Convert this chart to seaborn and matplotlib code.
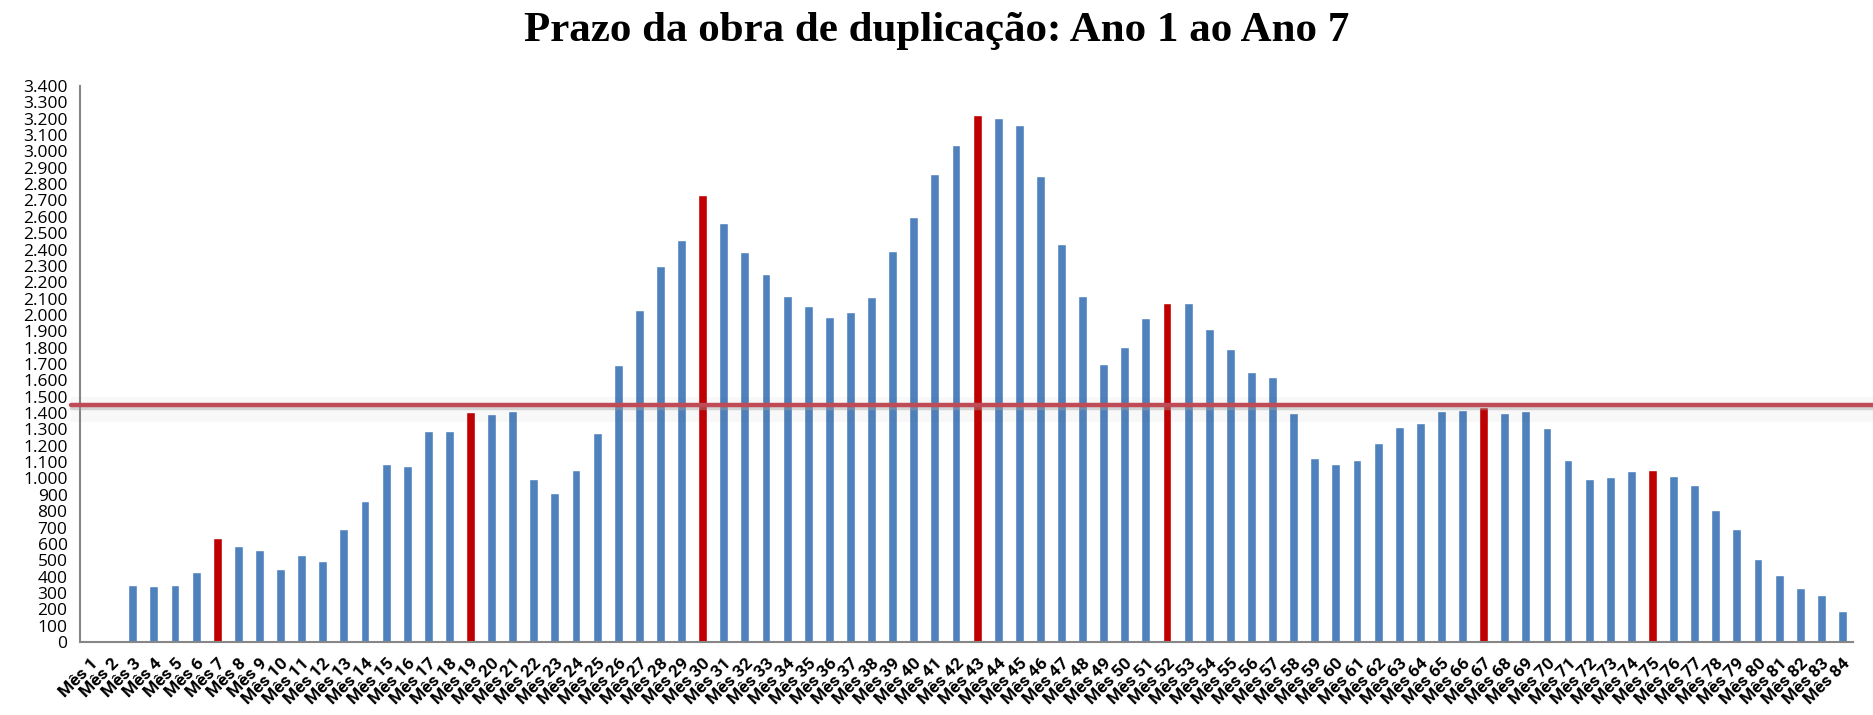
import numpy as np
import pandas as pd
import seaborn as sns
import matplotlib.pyplot as plt
from matplotlib.ticker import FuncFormatter, MultipleLocator

# Data
months = [f"Mês {i}" for i in range(1, 85)]
values = [
    0, 0, 347, 343, 350, 430, 638, 590, 564, 446,
    529, 496, 691, 862, 1090, 1076, 1290, 1290, 1405, 1393,
    1412, 998, 909, 1052, 1280, 1691, 2030, 2300, 2459, 2734,
    2565, 2382, 2253, 2116, 2055, 1987, 2015, 2112, 2391, 2600,
    2859, 3040, 3222, 3206, 3159, 2847, 2436, 2116, 1703, 1804,
    1982, 2076, 2074, 1917, 1792, 1649, 1623, 1400, 1123, 1090,
    1113, 1217, 1316, 1337, 1412, 1419, 1438, 1400, 1412, 1308,
    1111, 998, 1012, 1043, 1052, 1017, 958, 808, 688, 505,
    411, 333, 289, 188,
]
highlight_months = [7, 19, 30, 43, 52, 67, 75]
reference_level = 1450

title = "Prazo da obra de duplicação: Ano 1 ao Ano 7"

df = pd.DataFrame({"mes": months, "valor": values})
df["destaque"] = ["sim" if i in highlight_months else "nao" for i in range(1, 85)]

sns.set_style("white")
plt.rcParams["font.family"] = ["Open Sans", "DejaVu Sans"]
plt.rcParams["text.color"] = "black"
plt.rcParams["xtick.labelcolor"] = "black"
plt.rcParams["ytick.labelcolor"] = "black"

fig = plt.figure(figsize=(18.74, 7.15), dpi=100)
ax = fig.add_axes([0.0427, 0.1021, 0.9461, 0.7776])

sns.barplot(data=df, x="mes", y="valor", hue="destaque",
            palette={"nao": "#4F81BD", "sim": "#C00000"},
            width=0.42, dodge=False, legend=False, ax=ax,
            saturation=1, zorder=2)

# average line with a soft shadow
ax.axhspan(1345, 1500, xmin=-0.005, xmax=1.012, color="#505050",
           alpha=0.035, lw=0, zorder=3, clip_on=False)
ax.axhline(reference_level - 20, xmin=-0.005, xmax=1.012, color="#a0a0a0",
           lw=2.5, alpha=0.4, zorder=4, clip_on=False)
ax.axhline(reference_level + 8, xmin=-0.005, xmax=1.012, color="#E8A0A8",
           lw=2, alpha=0.6, zorder=4, clip_on=False)
ax.axhline(reference_level, xmin=-0.005, xmax=1.012, color="#BE4B55",
           lw=3.2, zorder=5, clip_on=False)

ax.set_xlim(-0.5, 83.5)
ax.set_ylim(0, 3400)
ax.yaxis.set_major_locator(MultipleLocator(100))
ax.yaxis.set_major_formatter(FuncFormatter(lambda v, p: f"{int(v):,}".replace(",", ".")))

# category boundary ticks like a spreadsheet chart
ax.set_xticks(np.arange(len(months)))
ax.set_xticklabels(months, rotation=45, ha="right", rotation_mode="anchor",
                   fontsize=12.5, fontweight="bold", family="Roboto")
ax.set_xticks(np.arange(-0.5, len(months)), minor=True)
ax.tick_params(axis="x", which="major", length=0, pad=10)
ax.tick_params(axis="x", which="minor", length=5, width=1.2, color="#868686")
ax.tick_params(axis="y", length=5, width=1.2, color="#868686", labelsize=12.5, pad=4)

ax.set_xlabel("")
ax.set_ylabel("")
for side in ["top", "right"]:
    ax.spines[side].set_visible(False)
for side in ["left", "bottom"]:
    ax.spines[side].set_color("#868686")
    ax.spines[side].set_linewidth(1.5)

fig.text(0.5, 0.957, title, ha="center", va="center", fontsize=31,
         fontweight="bold", family="Liberation Serif")

fig.savefig("out.png", dpi=100)
